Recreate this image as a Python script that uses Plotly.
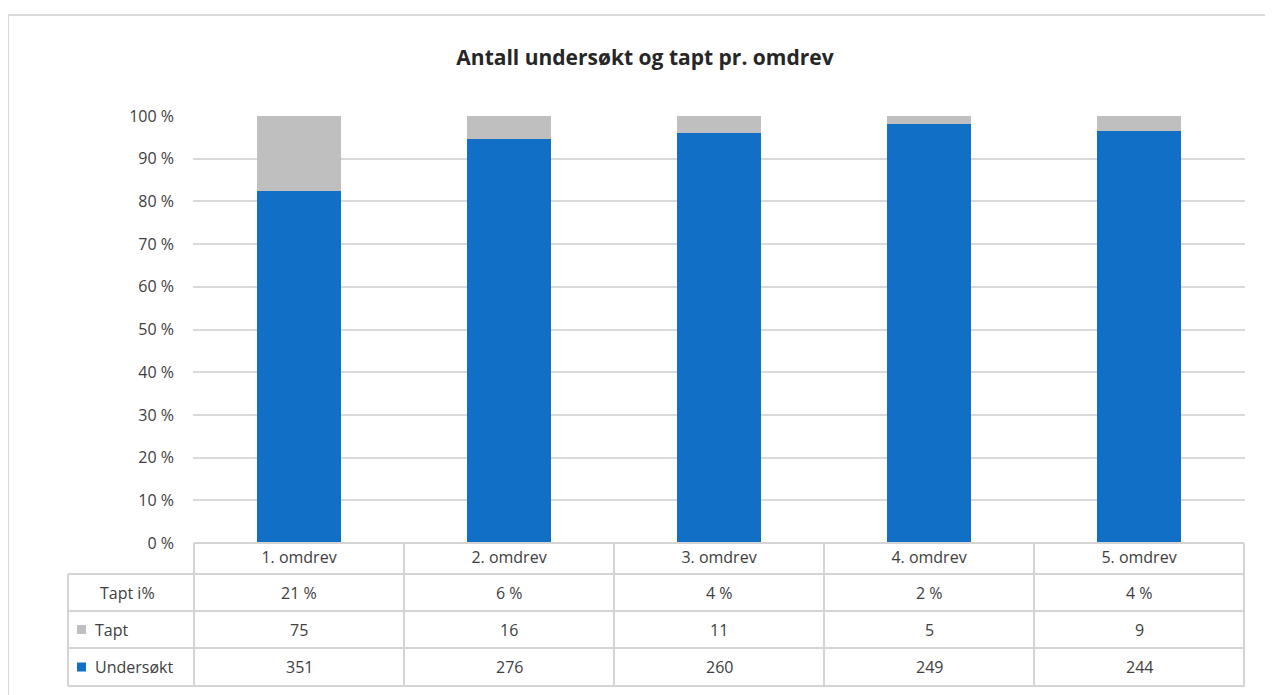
import plotly.graph_objects as go

categories = ["1. omdrev", "2. omdrev", "3. omdrev", "4. omdrev", "5. omdrev"]
undersokt = [351, 276, 260, 249, 244]
tapt = [75, 16, 11, 5, 9]
tapt_pct = [21, 6, 4, 2, 4]
y_ticks = [0, 10, 20, 30, 40, 50, 60, 70, 80, 90, 100]
y_tick_text = [f"{v} %" for v in y_ticks]

BLUE = "#1170C6"
GRAY = "#BFBFBF"
GRID = "#D9D9D9"
TXT = "#404040"
FONT = "Open Sans"
FS = 16

OFF = 8  # page body margin
W, H = 1273 - OFF, 695 - OFF
# plot area in reference pixel coordinates
PX0, PX1, PY0, PY1 = 193, 1245, 116, 543
L, R, T = PX0 - OFF, W - (PX1 - OFF), PY0 - OFF
B = H - (PY1 - OFF)
plot_w = PX1 - PX0
plot_h = PY1 - PY0


def py(ref_y):
    return (PY1 - ref_y) / plot_h


def pxx(ref_x):
    return (ref_x - PX0) / plot_w


fig = go.Figure()
fig.add_trace(go.Bar(x=categories, y=undersokt, name="Undersøkt",
                     marker=dict(color=BLUE, line=dict(width=0)), width=0.4))
fig.add_trace(go.Bar(x=categories, y=tapt, name="Tapt",
                     marker=dict(color=GRAY, line=dict(width=0)), width=0.4))

shapes = []
ann = []

# outer chart border
shapes.append(dict(type="rect", xref="paper", yref="paper",
                   x0=pxx(8), x1=pxx(1300), y0=py(720), y1=py(15),
                   line=dict(color=GRID, width=2), fillcolor="rgba(0,0,0,0)", layer="below"))

row_edges = [543, 574, 611, 648, 686]
n = len(categories)
lc = dict(color="#D4D4D4", width=2)
shapes.append(dict(type="line", xref="x", yref="paper", x0=-0.5, x1=n - 0.5,
                   y0=py(row_edges[0]), y1=py(row_edges[0]), line=lc))
for e in row_edges[1:]:
    shapes.append(dict(type="line", xref="paper", yref="paper", x0=pxx(68), x1=1,
                       y0=py(e), y1=py(e), line=lc))
for i in range(n + 1):
    shapes.append(dict(type="line", xref="x", yref="paper", x0=i - 0.5, x1=i - 0.5,
                       y0=py(row_edges[0]), y1=py(row_edges[-1]), line=lc))
shapes.append(dict(type="line", xref="paper", yref="paper", x0=pxx(68), x1=pxx(68),
                   y0=py(row_edges[1]), y1=py(row_edges[-1]), line=lc))

rows = [
    ("Tapt i%", [f"{v} %" for v in tapt_pct], None),
    ("Tapt", [str(v) for v in tapt], GRAY),
    ("Undersøkt", [str(v) for v in undersokt], BLUE),
]
tf = dict(size=FS, color=TXT, family=FONT)
for r, (label, vals, col) in enumerate(rows):
    yc = py((row_edges[r + 1] + row_edges[r + 2]) / 2)
    for i, v in enumerate(vals):
        ann.append(dict(x=i, y=yc, xref="x", yref="paper", text=v, showarrow=False,
                        xanchor="center", yanchor="middle", font=tf))
    if col is None:
        ann.append(dict(x=pxx(127), y=yc, xref="paper", yref="paper", text=label,
                        xanchor="center", yanchor="middle", showarrow=False, font=tf))
    else:
        shapes.append(dict(type="rect", xref="paper", yref="paper",
                           x0=pxx(77), x1=pxx(86), y0=yc - 4.5 / plot_h, y1=yc + 4.5 / plot_h,
                           fillcolor=col, line=dict(width=0)))
        ann.append(dict(x=pxx(93), y=yc, xref="paper", yref="paper", text=label,
                        xanchor="left", yanchor="middle", showarrow=False, font=tf))

fig.update_layout(
    width=W, height=H,
    margin=dict(l=L, r=R, t=T, b=B),
    barmode="stack", barnorm="percent",
    plot_bgcolor="white", paper_bgcolor="white",
    showlegend=False,
    title=dict(text="<b>Antall undersøkt og tapt pr. omdrev</b>", x=(645 - OFF) / W,
               xanchor="center", y=1 - (58 - OFF) / H, yanchor="middle",
               font=dict(family=FONT, size=21, color="#262626")),
    xaxis=dict(showgrid=False, showline=False, ticks="", zeroline=False,
               tickfont=tf, ticklabelstandoff=3),
    yaxis=dict(range=[0, 100], tickmode="array", tickvals=y_ticks, ticktext=y_tick_text,
               showgrid=True, gridcolor=GRID, gridwidth=2, zeroline=False, showline=False,
               tickfont=tf, ticklabelstandoff=18),
    shapes=shapes, annotations=ann,
    font=dict(family=FONT),
)

fig.write_html("out.html")
